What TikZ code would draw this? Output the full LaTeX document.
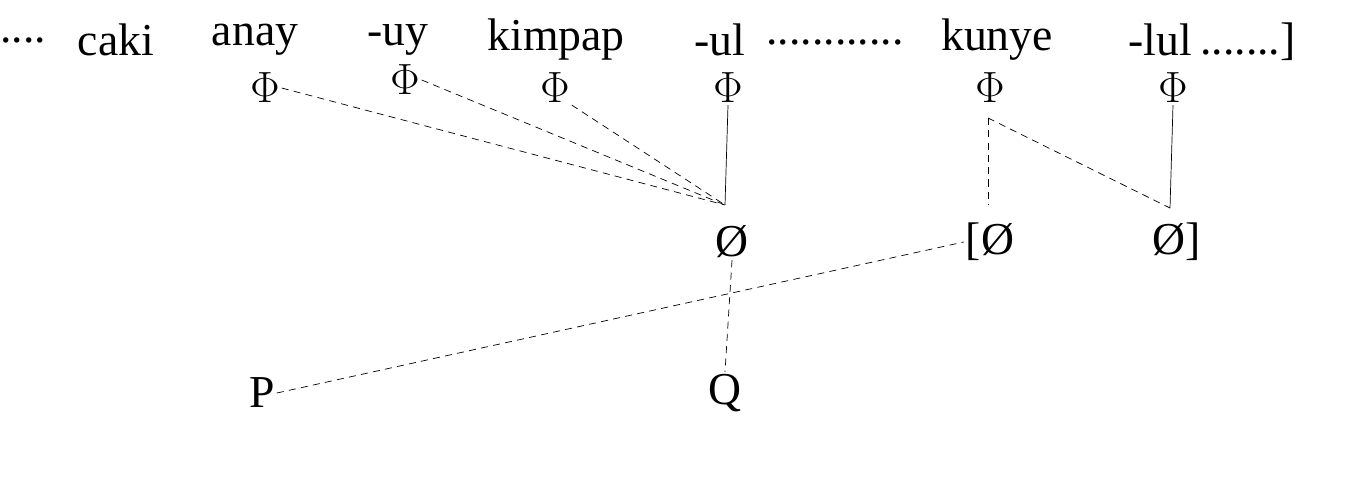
\documentclass[tikz,border=0pt]{standalone}
\usepackage{fontspec}
\setmainfont{Liberation Serif}
\begin{document}
\begin{tikzpicture}[x=0.02cm,y=-0.02cm,
    every node/.style={font=\fontsize{26}{28}\selectfont,inner sep=1pt},
    dashlink/.style={dashed,dash pattern=on 4pt off 3pt,thin},
    link/.style={thin}]
    \useasboundingbox (0,0) rectangle (1355,477);
    % top line
    \node (d1) at (23,40) {....};
    \node (caki) at (116,40) {caki};
    \node (anay) at (255,40) {anay};
    \node (uy) at (398,40) {-uy};
    \node (kimpap) at (556,40) {kimpap};
    \node (ul) at (720,40) {-ul};
    \node (d2) at (835,42) {............};
    \node (kunye) at (997,40) {kunye};
    \node (lul) at (1160,40) {-lul};
    \node (d3) at (1248,42) {.......]};
    % phi row
    \node (f1) at (265,88) {$\Phi$};
    \node (f2) at (405,80) {$\Phi$};
    \node (f3) at (555,88) {$\Phi$};
    \node (f4) at (728,88) {$\Phi$};
    \node (f5) at (990,88) {$\Phi$};
    \node (f6) at (1173,88) {$\Phi$};
    % empty row
    \node (e1) at (732,242) {Ø};
    \node (e2) at (990,242) {[Ø};
    \node (e3) at (1177,242) {Ø]};
    \node (p) at (262,393) {P};
    \node (q) at (725,393) {Q};
    \coordinate (j1) at (725,205);
    \coordinate (j2) at (988,118);
    \coordinate (j3) at (1170,208);
    % connectors
    \draw[dashlink] (f1.east) -- (j1);
    \draw[dashlink] (f2.east) -- (j1);
    \draw[dashlink] (f3.south east) -- (j1);
    \draw[link] (f4.south) -- (j1);
    \draw[dashlink] (j2) -- (988,205);
    \draw[dashlink] (j2) -- (j3);
    \draw[link] (f6.south) -- (j3);
    \draw[dashlink] (e1.south) -- (q.north);
    \draw[dashlink] (p.east) -- (e2.west);
\end{tikzpicture}
\end{document}
